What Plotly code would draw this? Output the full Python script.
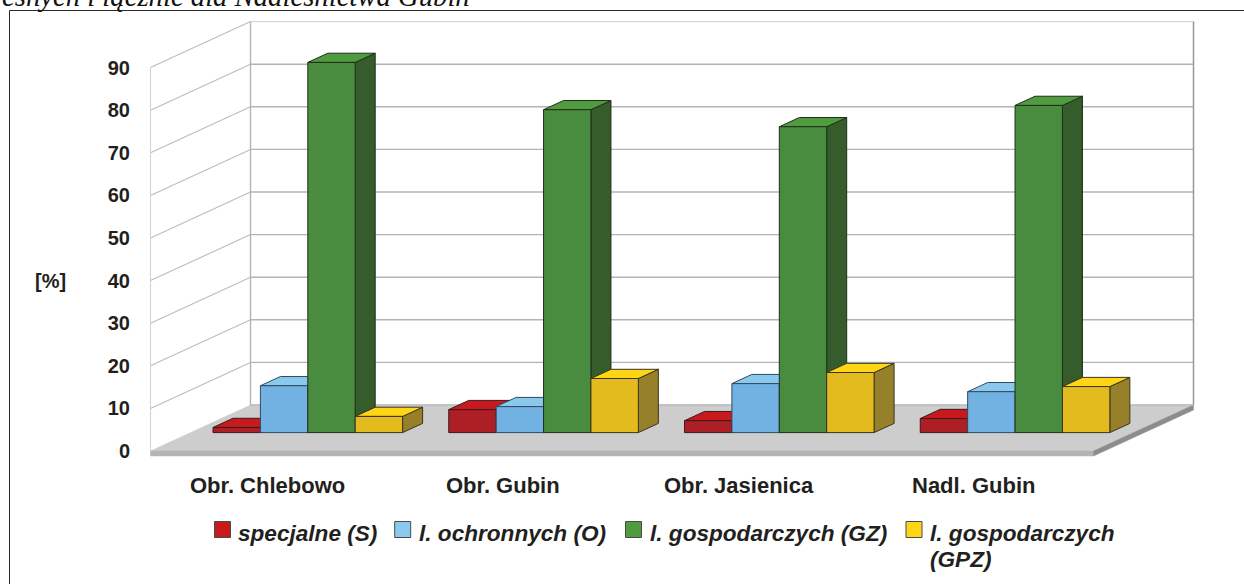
import plotly.graph_objects as go

categories = ["Obr. Chlebowo", "Obr. Gubin", "Obr. Jasienica", "Nadl. Gubin"]
series_names = ["specjalne (S)", "l. ochronnych (O)", "l. gospodarczych (GZ)", "l. gospodarczych<br>(GPZ)"]
specjalne = [1.2, 5.4, 2.8, 3.3]
ochronnych = [11.0, 6.1, 11.5, 9.6]
gospodarczych_gz = [86.9, 75.8, 71.8, 76.8]
gospodarczych_gpz = [3.8, 12.7, 14.1, 10.8]
y_ticks = [0, 10, 20, 30, 40, 50, 60, 70, 80, 90]

W, H = 1244, 584
PX_CAT = 235.75      # px per category
PX_VAL = 4.26        # px per value unit
X0, Y0 = 150.5, 451  # px of category 0 / value 0 on the front plane
DEPTH_X = 100 / PX_CAT   # wall depth, category units
DEPTH_Y = 46 / PX_VAL    # wall depth, value units
BAR_W = 47.4 / PX_CAT
GROUP_OFFSET = (213 - 150.5 - 40) / PX_CAT
D_FRONT, D_BACK = 0.4, 0.6

FACE = {
    "front": ["#ac1f25", "#72b2e2", "#4a8c3f", "#e4bb1e"],
    "top": ["#c8191f", "#8ac8ee", "#519b3f", "#ffd518"],
    "side": ["#7c1a1c", "#4f7c9e", "#355c2a", "#96802a"],
}
EDGE = ["#3a1a1a", "#2f4a5e", "#1f2f1a", "#3a3420"]


def P(c, v, d=0.0):
    return c + d * DEPTH_X, v + d * DEPTH_Y


def poly(points):
    xs = [p[0] for p in points] + [points[0][0], None]
    ys = [p[1] for p in points] + [points[0][1], None]
    return xs, ys


def add_poly(fig, pts_list, fill, line, width=1.0):
    xs, ys = [], []
    for pts in pts_list:
        a, b = poly(pts)
        xs += a
        ys += b
    fig.add_trace(go.Scatter(x=xs, y=ys, mode="lines", fill="toself", fillcolor=fill,
                             line=dict(color=line, width=width), hoverinfo="skip",
                             showlegend=False))


def add_line(fig, xs, ys, color, width=1.3):
    fig.add_trace(go.Scatter(x=xs, y=ys, mode="lines", line=dict(color=color, width=width),
                             hoverinfo="skip", showlegend=False))


fig = go.Figure()
n = len(categories)
# floor slab thickness in value units
slab = 5 / PX_VAL

# walls / gridlines
for t in y_ticks[1:]:
    col = "#d8d8d8" if t == 90 else "#b4b4b4"
    lx0, ly0 = P(0, t, 0)
    lx1, ly1 = P(0, t, 1)
    rx, ry = P(n, t, 1)
    add_line(fig, [lx0, lx1], [ly0, ly1], "#bcbcbc", 1.1)
    add_line(fig, [lx1, rx], [ly1, ry], col, 1.4)
a = P(0, 90, 0); b = P(0, 0, 0)
add_line(fig, [a[0], b[0]], [a[1], b[1]], "#d4d4d4", 1.1)
a = P(0, 90, 1); b = P(0, 0, 1)
add_line(fig, [a[0], b[0]], [a[1], b[1]], "#b4b4b4", 1.4)
a = P(n, 90, 1); b = P(n, 0, 1)
add_line(fig, [a[0], b[0]], [a[1], b[1]], "#999999", 1.5)

# floor
add_poly(fig, [[P(0, 0, 0), P(n, 0, 0), P(n, 0, 1), P(0, 0, 1)]], "#cdcdcd", "#cdcdcd", 0.5)
add_poly(fig, [[P(0, 0, 0), P(n, 0, 0), P(n, -slab, 0), P(0, -slab, 0)]], "#b4b4b4", "#b4b4b4", 0.5)
add_poly(fig, [[P(n, 0, 0), P(n, 0, 1), P(n, -slab, 1), P(n, -slab, 0)]], "#8c8c8c", "#8c8c8c", 0.5)
a = P(0, 0, 1); b = P(n, 0, 1)
add_line(fig, [a[0], b[0]], [a[1], b[1]], "#b8b8b8", 1.5)

# bars
all_values = [specjalne, ochronnych, gospodarczych_gz, gospodarczych_gpz]
for s, vals in enumerate(all_values):
    sides, tops, fronts = [], [], []
    for c, v in enumerate(vals):
        x0 = c + GROUP_OFFSET + s * BAR_W
        x1 = x0 + BAR_W
        fronts.append([P(x0, 0, D_FRONT), P(x1, 0, D_FRONT), P(x1, v, D_FRONT), P(x0, v, D_FRONT)])
        tops.append([P(x0, v, D_FRONT), P(x1, v, D_FRONT), P(x1, v, D_BACK), P(x0, v, D_BACK)])
        sides.append([P(x1, 0, D_FRONT), P(x1, 0, D_BACK), P(x1, v, D_BACK), P(x1, v, D_FRONT)])
    add_poly(fig, sides, FACE["side"][s], EDGE[s])
    add_poly(fig, tops, FACE["top"][s], EDGE[s])
    add_poly(fig, fronts, FACE["front"][s], EDGE[s])

TEXT = "#231f20"
SANS = "Liberation Sans"

# category labels
cat_label_px = [267, 503, 739, 974]
for name, px in zip(categories, cat_label_px):
    fig.add_annotation(text=f"<b>{name}</b>", xref="paper", yref="paper", x=px / W, y=1 - 485 / H,
                       xanchor="center", yanchor="middle", showarrow=False,
                       font=dict(family=SANS, size=22, color=TEXT))

# y-axis title
fig.add_annotation(text="<b>[%]</b>", xref="paper", yref="paper", x=50 / W, y=1 - 281 / H,
                   xanchor="center", yanchor="middle", showarrow=False,
                   font=dict(family=SANS, size=20, color=TEXT))

# legend
swatch_px = [222.5, 402.7, 633.5, 914]
label_px = [236, 416.5, 647.5, 928]
for name, sx, lx, col in zip(series_names, swatch_px, label_px, FACE["top"]):
    fig.add_shape(type="rect", xref="paper", yref="paper",
                  x0=(sx - 8) / W, x1=(sx + 8) / W, y0=1 - 537.5 / H, y1=1 - 521.5 / H,
                  fillcolor=col, line=dict(color="#4a4a4a", width=1))
    for i, part in enumerate(name.split("<br>")):
        fig.add_annotation(text=f"<b><i>{part}</i></b>", xref="paper", yref="paper",
                           x=lx / W, y=1 - (519 + 26 * i) / H,
                           xanchor="left", yanchor="top", align="left", showarrow=False,
                           font=dict(family=SANS, size=22.6, color=TEXT))

# frame
fig.add_shape(type="line", xref="paper", yref="paper", x0=9.5 / W, x1=1, y0=1 - 10.5 / H, y1=1 - 10.5 / H,
              line=dict(color="#2a2a2a", width=1))
fig.add_shape(type="line", xref="paper", yref="paper", x0=9.5 / W, x1=9.5 / W, y0=0, y1=1 - 10.5 / H,
              line=dict(color="#2a2a2a", width=1))

# clipped caption above the frame
fig.add_annotation(text="<i>eśnych i łącznie dla Nadleśnictwa Gubin</i>", xref="paper", yref="paper",
                   x=0, y=1 + 22 / H, xanchor="left", yanchor="top", showarrow=False,
                   font=dict(family="Liberation Serif", size=28.7, color="#111111"))

fig.update_layout(
    width=W, height=H, margin=dict(l=0, r=0, t=0, b=0), autosize=False,
    paper_bgcolor="white", plot_bgcolor="white", showlegend=False,
    xaxis=dict(range=[-X0 / PX_CAT, (W - X0) / PX_CAT], visible=False, fixedrange=True),
    yaxis=dict(range=[(Y0 - H) / PX_VAL, Y0 / PX_VAL], tickvals=y_ticks, ticktext=[f"<b>{t}</b>" for t in y_ticks],
               anchor="free", position=130 / W, showgrid=False, zeroline=False, showline=False,
               ticks="", ticklabelstandoff=0, fixedrange=True,
               tickfont=dict(family=SANS, size=20, color=TEXT)),
)
fig.write_html("out.html", post_script="document.body.style.margin='0';document.body.style.overflow='hidden';",
               config={"displayModeBar": False})
